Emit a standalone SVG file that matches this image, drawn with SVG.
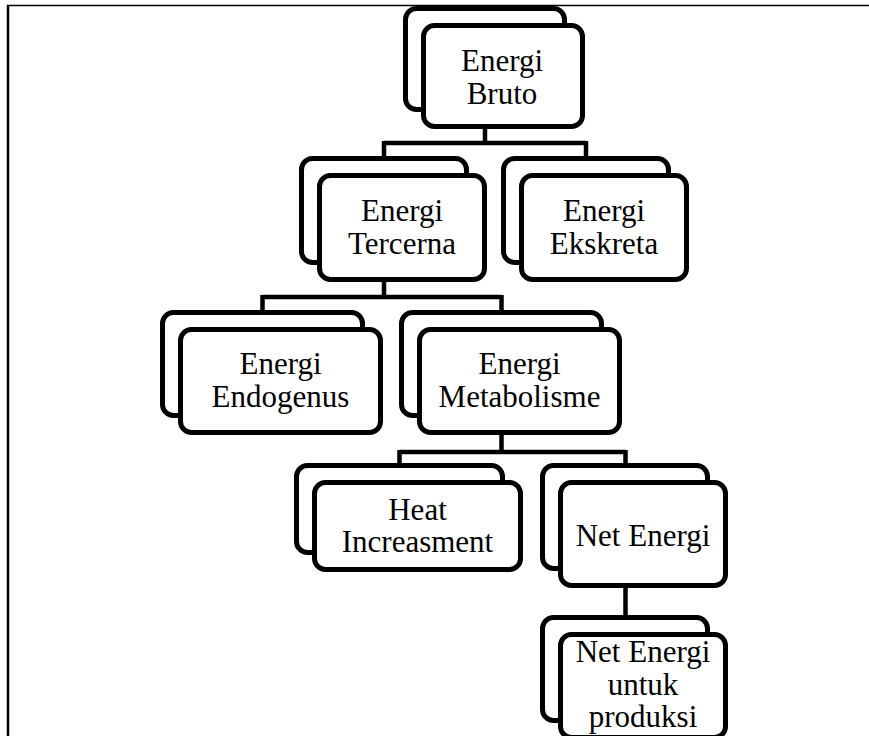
<svg xmlns="http://www.w3.org/2000/svg" width="869" height="736" viewBox="0 0 869 736">
<style>
.box{fill:#fff;stroke:#000;stroke-width:5}
.con{fill:none;stroke:#000;stroke-width:4.5}
.frame{stroke:#000;fill:none}
text{font-family:"Liberation Serif","Times New Roman",serif;font-size:31px;fill:#000;text-anchor:middle}
</style>
<rect width="869" height="736" fill="#fff"/>
<g id="frame">
<line class="frame" x1="8" y1="5" x2="8" y2="736" stroke-width="2.5"/>
<line class="frame" x1="7" y1="5.5" x2="869" y2="5.5" stroke-width="1.3"/>
</g>
<g id="connectors">
<path class="con" d="M485 128V143M384 143H586M384 141V160M586 141V160"/>
<path class="con" d="M384 281V297M262.5 297H501.5M262.5 295V314M501.5 295V314"/>
<path class="con" d="M501.5 434V452M399.5 452H625.5M399.5 450V467M625.5 450V467"/>
<path class="con" d="M625.5 587V619"/>
</g>
<g id="n-bruto">
<rect class="box" x="405.5" y="8.5" width="159" height="101" rx="11"/>
<rect class="box" x="423.5" y="25.5" width="159" height="101" rx="11"/>
<text x="502" y="71">Energi</text><text x="502" y="104">Bruto</text>
</g>
<g id="n-tercerna">
<rect class="box" x="301.5" y="158.5" width="165" height="104" rx="11"/>
<rect class="box" x="319.5" y="175.5" width="165" height="104" rx="11"/>
<text x="402" y="221">Energi</text><text x="402" y="254">Tercerna</text>
</g>
<g id="n-ekskreta">
<rect class="box" x="503.5" y="158.5" width="165" height="104" rx="11"/>
<rect class="box" x="521.5" y="175.5" width="165" height="104" rx="11"/>
<text x="604" y="221">Energi</text><text x="604" y="254">Ekskreta</text>
</g>
<g id="n-endogenus">
<rect class="box" x="162.5" y="312.5" width="200" height="103" rx="11"/>
<rect class="box" x="180.5" y="329.5" width="200" height="103" rx="11"/>
<text x="280.5" y="374">Energi</text><text x="280.5" y="407">Endogenus</text>
</g>
<g id="n-metabolisme">
<rect class="box" x="401.5" y="312.5" width="200" height="103" rx="11"/>
<rect class="box" x="419.5" y="329.5" width="200" height="103" rx="11"/>
<text x="519.5" y="374">Energi</text><text x="519.5" y="407">Metabolisme</text>
</g>
<g id="n-heat">
<rect class="box" x="296.5" y="465.5" width="206" height="87" rx="11"/>
<rect class="box" x="314.5" y="482.5" width="206" height="87" rx="11"/>
<text x="417.5" y="520">Heat</text><text x="417.5" y="552">Increasment</text>
</g>
<g id="n-net">
<rect class="box" x="542.5" y="465.5" width="165" height="103" rx="11"/>
<rect class="box" x="560.5" y="482.5" width="165" height="103" rx="11"/>
<text x="643" y="546">Net Energi</text>
</g>
<g id="n-produksi">
<rect class="box" x="542.5" y="617.5" width="165" height="103" rx="11"/>
<rect class="box" x="560.5" y="634.5" width="165" height="103" rx="11"/>
<text x="643" y="662">Net Energi</text><text x="643" y="695">untuk</text><text x="643" y="727">produksi</text>
</g>
</svg>
